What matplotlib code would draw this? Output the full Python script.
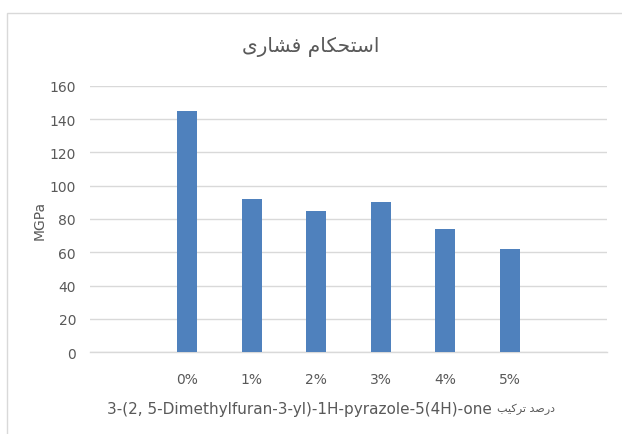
import numpy as np
import matplotlib
matplotlib.use("Agg")
import matplotlib.pyplot as plt
from matplotlib.patches import Rectangle

categories = ['', '0%', '1%', '2%', '3%', '4%', '5%', '']
values = [np.nan, 145, 92, 85, 90, 74, 62, np.nan]
yticks = [0, 20, 40, 60, 80, 100, 120, 140, 160]

# Persian text, pre-shaped with Arabic presentation forms in visual order
title_txt = "\uFEEF\uFEAD\uFE8E\uFEB8\uFED3 \uFEE1\uFE8E\uFB91\uFEA4\uFE98\uFEB3\uFE8D"  # استحکام فشاری
xlabel_latin = "3-(2, 5-Dimethylfuran-3-yl)-1H-pyrazole-5(4H)-one"
xlabel_fa = "\uFE90\uFEF4\uFB90\uFEAE\uFE97 \uFEAA\uFEBB\uFEAD\uFEA9"  # درصد ترکیب
ylabel_txt = "MGPa"

fam = ['DejaVu Sans']
txt_color = '#595959'

fig = plt.figure(figsize=(6.22, 4.35), dpi=100)
ax = fig.add_axes([90/622, 1-353.3/435, 517/622, (353.3-86.7)/435])

x = np.arange(len(categories))
ax.bar(x, values, width=0.31, color='#4f81bd', zorder=3)

ax.set_xlim(-0.5, len(categories)-0.5)
ax.set_ylim(0, 160)
ax.set_yticks(yticks)
ax.set_xticks(x)
ax.set_xticklabels(categories)
ax.grid(axis='y', color='#d9d9d9', linewidth=1.0, zorder=0)
for s in ['top', 'right', 'left']:
    ax.spines[s].set_visible(False)
ax.spines['bottom'].set_color('#d9d9d9')
ax.spines['bottom'].set_linewidth(1.0)
ax.tick_params(axis='both', length=0, labelcolor=txt_color, labelsize=10)
ax.tick_params(axis='x', pad=14)
ax.tick_params(axis='y', pad=10)
for lab in ax.get_xticklabels() + ax.get_yticklabels():
    lab.set_family(fam)

fig.text(0.5, 1-47/435, title_txt, ha='center', va='center',
         fontsize=14.5, color=txt_color, family=fam)
fig.text(107/622, 1-410/435, xlabel_latin, ha='left', va='center',
         fontsize=11, color=txt_color, family=fam)
fig.text(555/622, 1-409/435, xlabel_fa, ha='right', va='center',
         fontsize=8, color=txt_color, family=fam)
fig.text(40/622, 1-220/435, ylabel_txt, ha='center', va='center', rotation=90,
         fontsize=10, color=txt_color, family=fam)

fig.patches.append(Rectangle((7/622, -0.1), 1.2, 1-14/435+0.1, transform=fig.transFigure,
                             fill=False, edgecolor='#d9d9d9', linewidth=1.0, zorder=0))

fig.savefig('out.png', dpi=100)
